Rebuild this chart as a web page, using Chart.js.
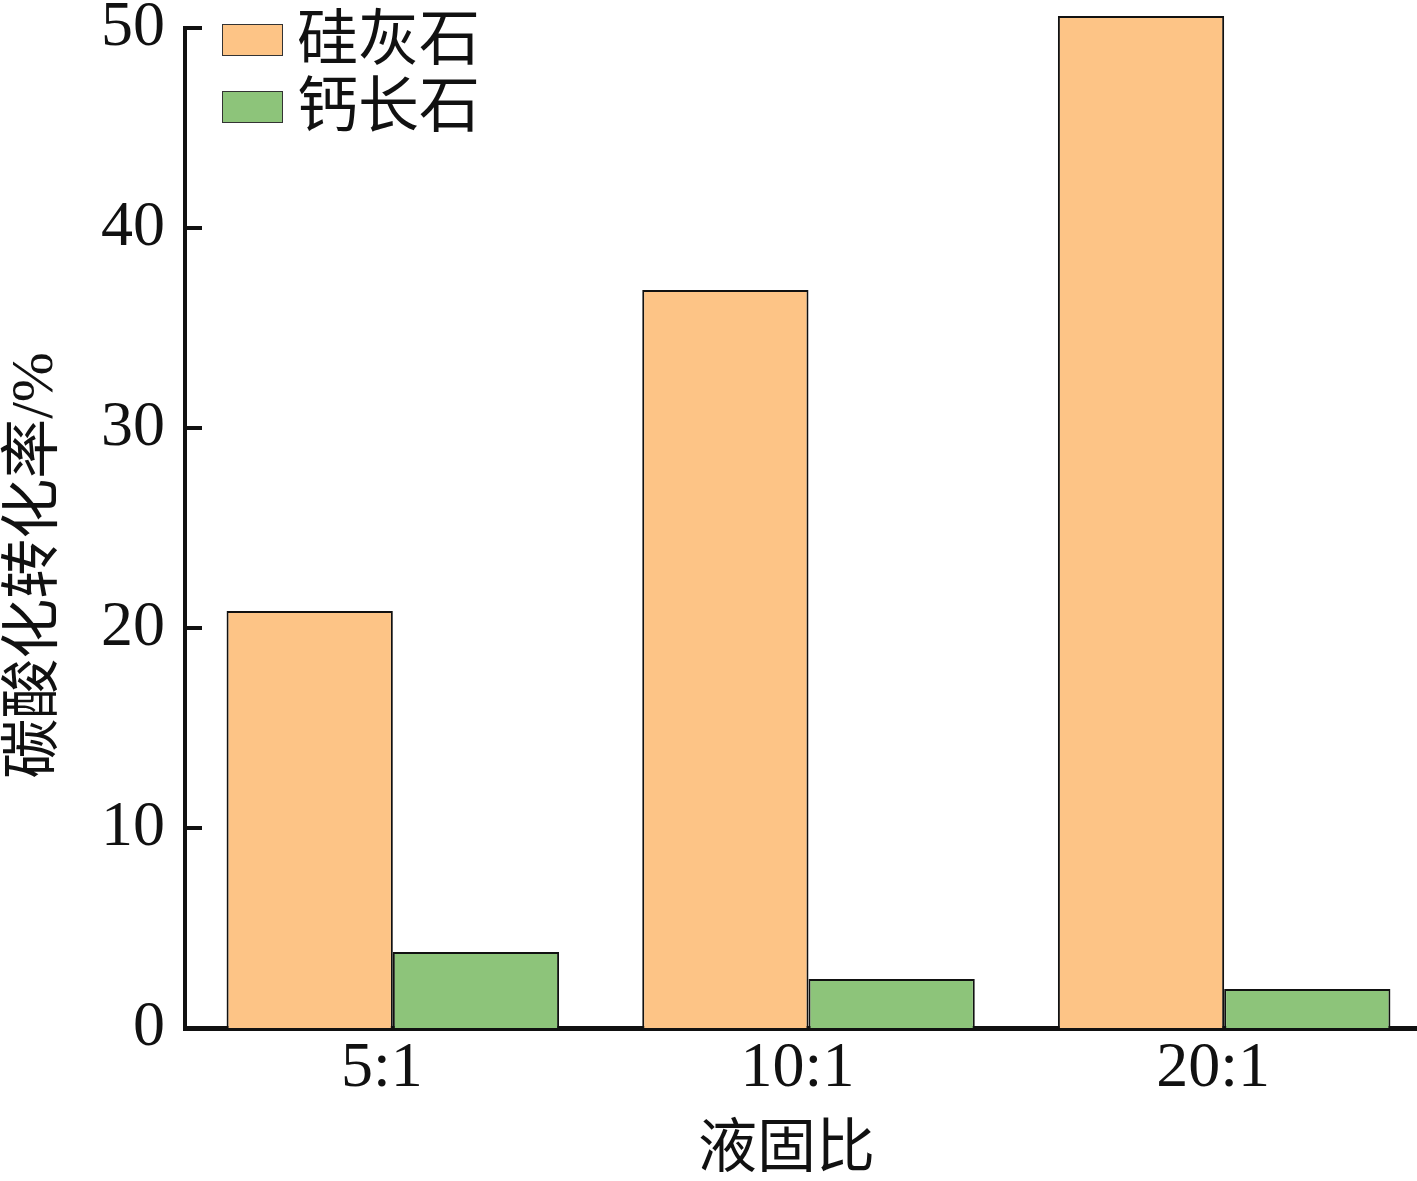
<!DOCTYPE html>
<html lang="zh">
<head>
    <meta charset="UTF-8">
    <title>碳酸化转化率</title>
    <script src="https://cdn.jsdelivr.net/npm/chart.js"></script>
    <style>
        html, body {
            margin: 0;
            padding: 0;
            overflow: hidden;
            background: #fff;
        }
        .wrap {
            position: relative;
            width: 1432px;
            height: 1181px;
        }
        .legend {
            position: absolute;
            left: 222px;
            top: 6px;
            font-family: "Liberation Serif", "Noto Sans CJK SC", serif;
            font-size: 61px;
            line-height: 67px;
            color: #111;
        }
        .legend .item {
            display: flex;
            align-items: center;
            height: 67px;
        }
        .legend .box {
            width: 59px;
            height: 30px;
            border: 1.5px solid #333;
            margin-right: 14px;
        }
    </style>
</head>
<body>
    <div class="wrap">
        <canvas id="chart" width="1432" height="1181"></canvas>
        <div class="legend" id="legend"></div>
    </div>

    <script>
        // data
        const categories = ['5:1', '10:1', '20:1'];
        const wollastonite = [20.85, 36.9, 50.6];   // 硅灰石
        const anorthite = [3.8, 2.45, 1.95];        // 钙长石
        const yTicks = [0, 10, 20, 30, 40, 50];

        const serif = '"Liberation Serif", "Noto Sans CJK SC", serif';

        // short tick marks pointing into the plot
        const innerTicks = {
            id: 'innerTicks',
            afterDraw(chart) {
                const y = chart.scales.y;
                const ctx = chart.ctx;
                ctx.save();
                ctx.strokeStyle = '#111';
                ctx.lineWidth = 4;
                yTicks.forEach(v => {
                    if (v === 0) return;
                    const py = y.getPixelForValue(v);
                    ctx.beginPath();
                    ctx.moveTo(chart.chartArea.left, py);
                    ctx.lineTo(chart.chartArea.left + 17, py);
                    ctx.stroke();
                });
                ctx.restore();
            }
        };

        const ctx = document.getElementById('chart').getContext('2d');
        const chart = new Chart(ctx, {
            type: 'bar',
            data: {
                labels: categories,
                datasets: [
                    {
                        label: '硅灰石',
                        data: wollastonite,
                        backgroundColor: '#fdc486',
                        borderColor: '#111',
                        borderWidth: 2,
                        clip: false,
                    },
                    {
                        label: '钙长石',
                        data: anorthite,
                        backgroundColor: '#8dc47a',
                        borderColor: '#111',
                        borderWidth: 2,
                        clip: false,
                    },
                ],
            },
            options: {
                responsive: false,
                animation: false,
                layout: { padding: { top: 28, left: 0, right: 0, bottom: 0 } },
                datasets: {
                    bar: { categoryPercentage: 0.8, barPercentage: 1.0 },
                },
                plugins: {
                    legend: { display: false },
                    tooltip: { enabled: false },
                },
                scales: {
                    x: {
                        grid: { display: false },
                        border: { display: true, color: '#111', width: 5 },
                        ticks: {
                            color: '#111',
                            font: { family: serif, size: 64 },
                            padding: -5,
                            labelOffset: -11,
                        },
                        title: {
                            display: true,
                            text: '液固比\u2002 ',
                            color: '#111',
                            font: { family: serif, size: 59, lineHeight: 1.0 },
                            padding: 0,
                        },
                        afterFit(scale) {
                            scale.height = 153;
                            scale.paddingLeft = 0;
                            scale.paddingRight = 0;
                        },
                    },
                    y: {
                        min: 0,
                        max: 50,
                        afterBuildTicks(scale) {
                            scale.ticks = yTicks.map(v => ({ value: v }));
                        },
                        grid: { display: false },
                        border: { display: true, color: '#111', width: 4 },
                        ticks: {
                            color: '#111',
                            font: { family: serif, size: 64 },
                            padding: 12,
                        },
                        title: {
                            display: true,
                            text: '碳酸化转化率/%\u3000 ',
                            color: '#111',
                            font: { family: serif, size: 60 },
                            padding: 0,
                        },
                        afterFit(scale) {
                            scale.width = 185;
                            scale.paddingTop = 0;
                            scale.paddingBottom = 0;
                        },
                    },
                },
            },
            plugins: [innerTicks],
        });

        // legend built from the datasets
        const legend = document.getElementById('legend');
        chart.data.datasets.forEach(ds => {
            const item = document.createElement('div');
            item.className = 'item';
            const box = document.createElement('span');
            box.className = 'box';
            box.style.background = ds.backgroundColor;
            const txt = document.createElement('span');
            txt.textContent = ds.label;
            item.appendChild(box);
            item.appendChild(txt);
            legend.appendChild(item);
        });
    </script>
</body>
</html>
